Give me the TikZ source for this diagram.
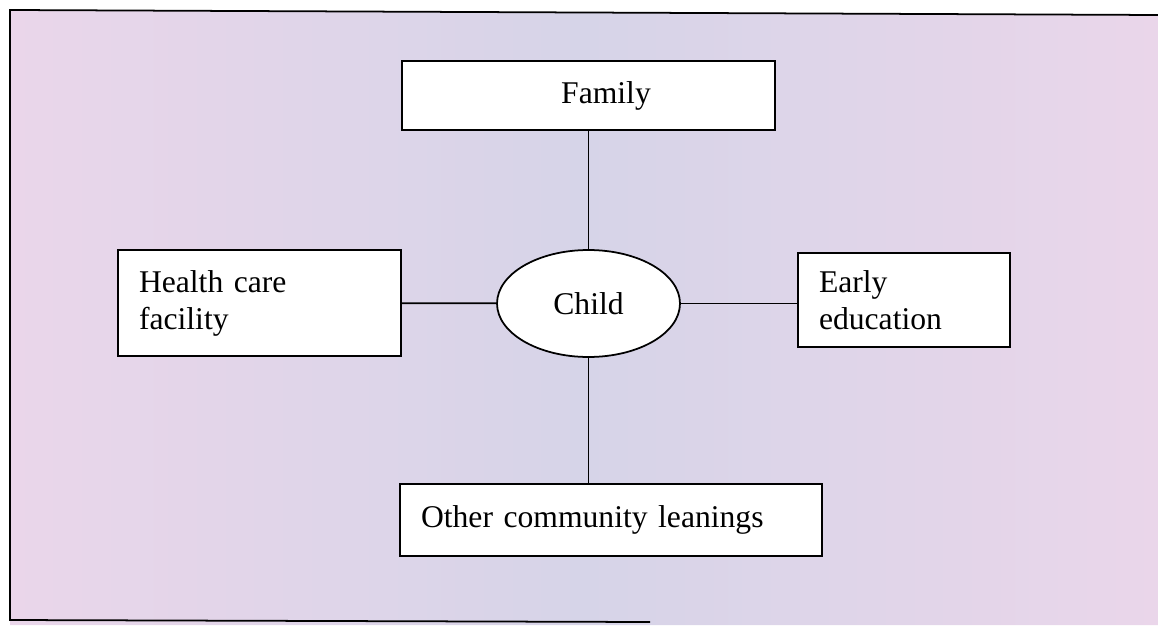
\documentclass[tikz,border=0pt]{standalone}
\usepackage{fontspec}
\setmainfont{Liberation Serif}
\usetikzlibrary{shapes.geometric}
\definecolor{paperpink}{RGB}{234,214,234}
\definecolor{paperblue}{RGB}{214,212,232}
\tikzset{every path/.style={black,line width=1pt}, every node/.style={font=\fontsize{18}{21}\selectfont, inner sep=0pt}}
\tikzset{box/.style={draw, fill=white, align=left, inner xsep=0.42cm}, hub/.style={draw, fill=white, ellipse}}

\begin{document}
\begin{tikzpicture}[x=0.02cm,y=-0.02cm]
       \useasboundingbox (0,0) rectangle (1158,625);
       \begin{scope}
        % paper
        \shade[draw=none, left color=paperpink, right color=paperpink, middle color=paperblue] (10,10) -- (1158,15) -- (1158,625) -- (10,625) -- cycle;
        \draw (1158,15) -- (10,10) -- (10,620) -- (650,622);
        % nodes
        \node[hub, minimum width=3.66cm, minimum height=2.14cm] (child) at (588.5,303.5) {Child};
        \node[box, minimum width=7.46cm, minimum height=1.38cm, align=center] (family) at (588.5,95.5) {\hspace*{0.7cm}Family};
        \node[box, text width=4.82cm, minimum height=2.12cm] (health) at (259.5,303) {Health care\\facility};
        \node[box, text width=3.40cm, minimum height=1.88cm] (early) at (904,300) {Early\\education};
        \node[box, text width=7.60cm, minimum height=1.44cm] (other) at (611,520) {Other community leanings};
        % links
        \draw (family) -- (child);
        \draw (child) -- (health);
        \draw (child.east) -- (child.east -| early.west);
        \draw (child.south) -- (child.south |- other.north);
       \end{scope}
      \end{tikzpicture}
\end{document}
